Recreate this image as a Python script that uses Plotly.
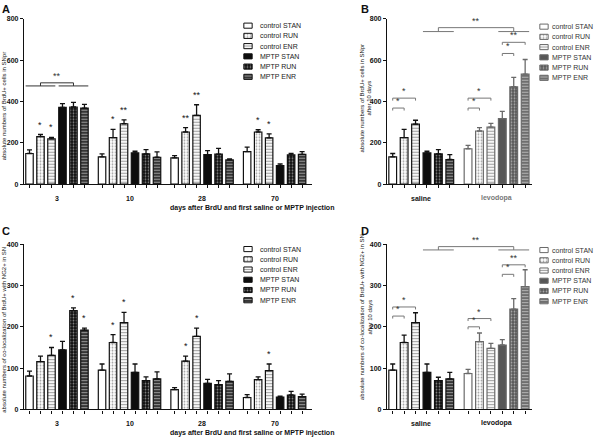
import plotly.graph_objects as go

W, H = 600, 443
FONT = "Liberation Sans, Arial, sans-serif"

treatments = ["control STAN", "control RUN", "control ENR", "MPTP STAN", "MPTP RUN", "MPTP ENR"]
days = ["3", "10", "28", "70"]
drugs = ["saline", "levodopa"]

# A: BrdU+ cells in SNpr, one row per day, one column per treatment
a_mean = [[148, 230, 219, 371, 373, 368],
          [132, 225, 292, 151, 146, 130],
          [127, 252, 333, 143, 145, 117],
          [157, 252, 224, 90, 141, 144]]
a_err = [[18, 10, 7, 18, 22, 18],
         [14, 40, 19, 8, 21, 26],
         [11, 21, 51, 19, 28, 5],
         [22, 11, 19, 8, 8, 13]]
a_star = [["", "*", "*", "", "", ""],
          ["", "*", "**", "", "", ""],
          ["", "**", "**", "", "", ""],
          ["", "*", "*", "", "", ""]]

# B: BrdU+ cells in SNpr after 10 days
b_mean = [[132, 225, 290, 151, 146, 119],
          [171, 257, 276, 317, 471, 532]]
b_err = [[16, 40, 19, 8, 21, 24],
         [16, 16, 18, 35, 45, 71]]

# C: BrdU+/NG2+ co-localization in SN
c_mean = [[81, 116, 131, 144, 239, 192],
          [95, 162, 210, 90, 70, 74],
          [48, 117, 177, 63, 60, 68],
          [29, 72, 94, 30, 35, 31]]
c_err = [[12, 13, 19, 21, 7, 5],
         [15, 19, 25, 20, 9, 17],
         [5, 12, 20, 10, 10, 18],
         [7, 7, 16, 2, 9, 6]]
c_star = [["", "", "*", "", "*", "*"],
          ["", "*", "*", "", "", ""],
          ["", "*", "*", "", "", ""],
          ["", "", "*", "", "", ""]]

# D: BrdU+/NG2+ co-localization in SN after 10 days
d_mean = [[95, 162, 210, 90, 70, 74],
          [87, 164, 148, 156, 243, 297]]
d_err = [[15, 18, 24, 20, 8, 16],
         [10, 21, 12, 13, 25, 41]]

no_star = [[""] * 6, [""] * 6]

# significance brackets: (bar a, bar b, level, drop, label), bars indexed over the whole panel
a_brackets = [(1, 4, 490, 15, "**")]
a_spans = [(0, 2, 475), (3, 5, 475)]
b_brackets = [(0, 1, 368, 12, "*"), (0, 2, 416, 12, "*"), (6, 7, 368, 12, "*"), (6, 8, 416, 12, "*"),
              (9, 10, 632, 12, "*"), (9, 11, 686, 12, "**"), (4, 10, 757, 19, "**")]
b_spans = [(3, 5, 738), (9, 11, 738)]
d_brackets = [(0, 1, 226, 6, "*"), (0, 2, 248, 6, "*"), (6, 7, 200, 6, "*"), (6, 8, 220, 6, "*"),
              (9, 10, 327, 6, "*"), (9, 11, 350, 6, "**"), (4, 10, 394, 8, "**")]
d_spans = [(3, 5, 386), (9, 11, 386)]

DARK = dict(fill=["white", "white", "white", "#0d0d0d", "#0d0d0d", "#2a2a2a"],
            shape=["", ".", "-", "", ".", "-"],
            fg=["#111", "#444", "#8c8c8c", "#111", "#8a8a8a", "#9a9a9a"],
            solid=[0.3, 0.3, 0.4, 0.3, 0.3, 0.4],
            line="#111", text="#111")
GRAY = dict(fill=["white", "white", "white", "#575757", "#575757", "#666666"],
            shape=["", ".", "-", "", ".", "-"],
            fg=["#111", "#888", "#b0b0b0", "#111", "#8c8c8c", "#a8a8a8"],
            solid=[0.3, 0.3, 0.4, 0.3, 0.3, 0.4],
            line="#6a6a6a", text="#555")

PITCH = 6.6


def xpos(g, i):
    return g * PITCH + i


def paper_y(py):
    return 1 - py / H


def marker_for(st, lw=1.2):
    return dict(color=st["fill"], line=dict(color=st["line"], width=lw),
                pattern=dict(shape=st["shape"], fgcolor=st["fg"], size=3,
                             solidity=st["solid"], fillmode="overlay"))


def add_panel(fig, n, groups, mean, err, star, styles, xdom, ydom, xmax, ymax, ystep,
              brackets, spans, br_color, label_colors):
    xa, ya = ("x", "y") if n == 1 else (f"x{n}", f"y{n}")
    ppu = (ydom[1] - ydom[0]) / ymax  # pixels per data unit
    ticks = []
    for g, name in enumerate(groups):
        st = styles[g]
        xs = [xpos(g, i) for i in range(6)]
        ticks += xs
        fig.add_trace(go.Bar(
            x=xs, y=mean[g], width=0.68, xaxis=xa, yaxis=ya,
            marker=marker_for(st),
            error_y=dict(type="data", symmetric=False, array=err[g], arrayminus=[0] * 6,
                         color=st["line"], thickness=1.3, width=2.5),
            showlegend=False, hoverinfo="skip"))
        for i in range(6):
            if star[g][i]:
                fig.add_annotation(x=xs[i], y=mean[g][i] + err[g][i], xref=xa, yref=ya,
                                   text=star[g][i], showarrow=False, yanchor="bottom", yshift=3,
                                   font=dict(size=9, color=st["text"], family=FONT))
        # group bracket under the axis
        x0, x1 = xs[0] - 0.32, xs[-1] + 0.32
        yl, yt, yb = -8.5 / ppu, -5.5 / ppu, -11.5 / ppu
        fig.add_trace(go.Scatter(
            x=[x0, x1, None, x0, x0, None, x1, x1], y=[yl, yl, None, yt, yb, None, yt, yb],
            mode="lines", line=dict(color=st["line"], width=1), cliponaxis=False,
            xaxis=xa, yaxis=ya, showlegend=False, hoverinfo="skip"))
        fig.add_annotation(x=xpos(g, 2.5), y=0, xref=xa, yref=ya, text=name, showarrow=False,
                           yanchor="middle", yshift=-14,
                           font=dict(size=7, color=label_colors[g], family=FONT, weight="bold"))

    # significance brackets above the bars
    bx, by = [], []
    for a, b, lvl, drop, lab in brackets:
        xa_, xb_ = xpos(a // 6, a % 6), xpos(b // 6, b % 6)
        bx += [xa_, xa_, xb_, xb_, None]
        by += [lvl - drop, lvl, lvl, lvl - drop, None]
        fig.add_annotation(x=(xa_ + xb_) / 2, y=lvl, xref=xa, yref=ya, text=lab, showarrow=False,
                           yanchor="bottom", yshift=0, font=dict(size=9, color="#333", family=FONT))
    for a, b, lvl in spans:
        bx += [xpos(a // 6, a % 6) - 0.35, xpos(b // 6, b % 6) + 0.35, None]
        by += [lvl, lvl, None]
    if bx:
        fig.add_trace(go.Scatter(x=bx, y=by, mode="lines", line=dict(color=br_color, width=1),
                                 cliponaxis=False, xaxis=xa, yaxis=ya,
                                 showlegend=False, hoverinfo="skip"))

    xname, yname = ("xaxis", "yaxis") if n == 1 else (f"xaxis{n}", f"yaxis{n}")
    fig.update_layout(**{
        xname: dict(domain=[xdom[0] / W, xdom[1] / W], range=[-0.5, xmax], anchor=ya,
                    showline=True, linecolor="#111", linewidth=1.3, ticks="outside", ticklen=3,
                    tickwidth=1, tickcolor="#111", tickvals=ticks, showticklabels=False,
                    showgrid=False, zeroline=False, fixedrange=True),
        yname: dict(domain=[paper_y(ydom[1]), paper_y(ydom[0])], range=[0, ymax], anchor=xa,
                    showline=True, linecolor="#111", linewidth=1.3, ticks="outside", ticklen=3,
                    tickwidth=1, tickcolor="#111", tickvals=list(range(0, ymax + 1, ystep)),
                    tickfont=dict(size=7, color="#111", family=FONT, weight="bold"),
                    showgrid=False, zeroline=False, fixedrange=True),
    })


def add_key(fig, n, st, left, row0, gap, color):
    # small horizontal bar chart used as the key, so the swatches carry the patterns
    row = 10.4
    fig.add_trace(go.Bar(x=[1] * 6, y=list(range(6)), orientation="h", width=0.5,
                         xaxis=f"x{n}", yaxis=f"y{n}", marker=marker_for(st, 1),
                         showlegend=False, hoverinfo="skip"))
    fig.update_layout(**{
        f"xaxis{n}": dict(domain=[left / W, (left + 10) / W], range=[-0.1, 1.1], visible=False,
                          fixedrange=True),
        f"yaxis{n}": dict(domain=[paper_y(row0 + 5 * row + row / 2), paper_y(row0 - row / 2)],
                          range=[5.5, -0.5], anchor=f"x{n}", side="right", tickvals=list(range(6)),
                          ticktext=treatments, ticks="", showline=False, showgrid=False,
                          zeroline=False, ticklabelstandoff=gap, fixedrange=True,
                          tickfont=dict(size=7, color=color, family=FONT)),
    })


fig = go.Figure()

add_panel(fig, 1, days, a_mean, a_err, a_star, [DARK] * 4, (24, 312), (15, 183), 25.7, 800, 200,
          a_brackets, a_spans, "#333", ["#111"] * 4)
add_panel(fig, 2, drugs, b_mean, b_err, no_star, [DARK, GRAY], (387, 532), (15, 183), 12.2, 800, 200,
          b_brackets, b_spans, "#777", ["#111", "#777"])
add_panel(fig, 3, days, c_mean, c_err, c_star, [DARK] * 4, (24, 312), (244, 412), 25.7, 400, 100,
          [], [], "#333", ["#111"] * 4)
add_panel(fig, 4, drugs, d_mean, d_err, no_star, [DARK, GRAY], (387, 532), (244, 412), 12.2, 400, 100,
          d_brackets, d_spans, "#777", ["#111", "#111"])

add_key(fig, 5, DARK, 243, 22, 6, "#222")
add_key(fig, 6, GRAY, 539, 23, 2, "#333")
add_key(fig, 7, DARK, 243, 249, 6, "#222")
add_key(fig, 8, GRAY, 539, 250, 2, "#333")

# panel letters
for letter, x, y in [("A", 0, 0), ("B", 359, 0), ("C", 0, 226), ("D", 359, 226)]:
    fig.add_annotation(x=x / W, y=paper_y(y), xref="paper", yref="paper", text=letter,
                       showarrow=False, xanchor="left", yanchor="top", yshift=3,
                       font=dict(size=11, color="#111", family=FONT, weight="bold"))

# axis titles
xtitle = "days after BrdU and first saline or MPTP injection"
ytitles = [
    ("absolute numbers of BrdU+ cells in SNpr", 4, 104),
    ("absolute numbers of BrdU+ cells in SNpr<br>after 10 days", 366, 96),
    ("absolute numbers of co-localization of BrdU+ with NG2+ in SN", 4, 331),
    ("absolute numbers of co-localization of BrdU+ with NG2+ in SN<br>after 10 days", 366, 318),
]
for text, x, y in ytitles:
    fig.add_annotation(x=x / W, y=paper_y(y), xref="paper", yref="paper", text=text,
                       showarrow=False, textangle=-90, xanchor="center", yanchor="middle",
                       font=dict(size=6, color="#111", family=FONT))
for y in (207, 436):
    fig.add_annotation(x=168 / W, y=paper_y(y), xref="paper", yref="paper", text=xtitle,
                       showarrow=False, yanchor="middle",
                       font=dict(size=7, color="#111", family=FONT, weight="bold"))

fig.update_layout(width=W, height=H, margin=dict(l=0, r=0, t=0, b=0),
                  paper_bgcolor="white", plot_bgcolor="white", barmode="overlay",
                  showlegend=False, font=dict(family=FONT))

# the page body has a default margin; drop it so the figure sits at the window corner
fig.write_html("out.html", config={"displayModeBar": False},
               post_script="document.body.style.margin='0';")
